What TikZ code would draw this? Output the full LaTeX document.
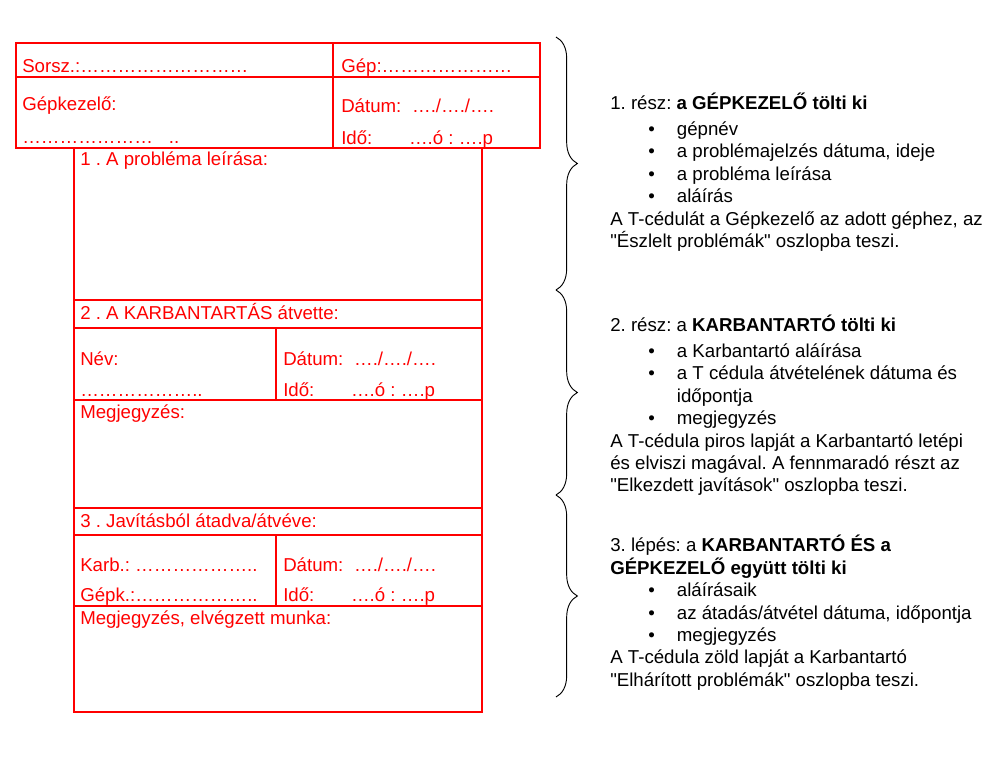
\documentclass[tikz,border=0pt]{standalone}
\usepackage{fontspec}
\setmainfont{Liberation Sans}[Ligatures=TeXOff]
\usetikzlibrary{positioning, decorations.pathreplacing}
\frenchspacing
\tikzstyle{formLine} = [
    draw=red,
    line width=1.3pt
    ]
\tikzstyle{formText} = [
    anchor=base west,
    inner sep=0pt,
    text=red,
    font=\fontsize{14}{16}\selectfont
    ]
\tikzstyle{noteText} = [
    anchor=north west,
    inner sep=0pt,
    align=left,
    font=\fontsize{14}{16.8}\selectfont
    ]
\tikzstyle{sectionBrace} = [
    decorate,
    decoration={brace, amplitude=16pt},
    line width=0.7pt
    ]
\newcommand{\bulletItem}[1]{\hspace*{28.5pt}\makebox[21.5pt][l]{\textbullet}#1}
\newcommand{\itemCont}[1]{\hspace*{50pt}#1}

\begin{document}
\begin{tikzpicture}[x=0.75pt, y=-0.75pt]
      \useasboundingbox (0,0) rectangle (1000,763);
      % header box
      \draw[formLine] (16,43) rectangle (540,148);
      \draw[formLine] (16,77) -- (540,77);
      \draw[formLine] (333,43) -- (333,148);
      % main sheet
      \draw[formLine] (74,148) rectangle (482,712);
      \foreach \y in {300,328,400,508,535,606}
        \draw[formLine] (74,\y) -- (482,\y);
      \draw[formLine] (276,328) -- (276,400);
      \draw[formLine] (276,535) -- (276,606);

      % header texts
      \node[formText] (sorsz) at (22,73) {Sorsz.:………………………};
      \node[formText] (gep) at (341,73) {Gép:…………………};
      \node[formText] (gepkez) at (22,111) {Gépkezelő:};
      \node[formText] (gepkezDots) at (22,144) {…………………\hspace{12pt}..};
      \node[formText] (datum1) at (341,113) {Dátum:\hspace{8pt}…./…./….};
      \node[formText] (ido1) at (341,145) {Idő:\hspace{27.5pt}….ó : ….p};

      % section 1
      \node[formText] (leiras) at (80,166) {1 . A probléma leírása:};
      % section 2
      \node[formText] (atvette) at (80,319) {2 . A KARBANTARTÁS átvette:};
      \node[formText] (nev) at (80,365) {Név:};
      \node[formText] (nevDots) at (80,396) {………………..};
      \node[formText] (datum2) at (283,365) {Dátum:\hspace{8pt}…./…./….};
      \node[formText] (ido2) at (283,396) {Idő:\hspace{27.5pt}….ó : ….p};
      \node[formText] (megj2) at (80,418) {Megjegyzés:};
      % section 3
      \node[formText] (atadva) at (80,527) {3 . Javításból átadva/átvéve:};
      \node[formText] (karb) at (80,571) {Karb.: ………………..};
      \node[formText] (gepk) at (80,601) {Gépk.:………………..};
      \node[formText] (datum3) at (283,571) {Dátum:\hspace{8pt}…./…./….};
      \node[formText] (ido3) at (283,601) {Idő:\hspace{27.5pt}….ó : ….p};
      \node[formText] (megj3) at (80,624) {Megjegyzés, elvégzett munka:};

      % braces
      \coordinate (braceA) at (556,37);
      \coordinate (braceB) at (556,290);
      \coordinate (braceC) at (556,495);
      \coordinate (braceD) at (556,697);
      \draw[sectionBrace] (braceA) -- (braceB);
      \draw[sectionBrace] (braceB) -- (braceC);
      \draw[sectionBrace] (braceC) -- (braceD);

      % notes
      \node[noteText] (note1) at (610,93) {1. rész: \textbf{a GÉPKEZELŐ tölti ki}\\[2.5pt]
        \bulletItem{gépnév}\\
        \bulletItem{a problémajelzés dátuma, ideje}\\
        \bulletItem{a probléma leírása}\\
        \bulletItem{aláírás}\\
        A T-cédulát a Gépkezelő az adott géphez, az\\
        "Észlelt problémák" oszlopba teszi.};
      \node[noteText] (note2) at (610,315) {2. rész: a \textbf{KARBANTARTÓ tölti ki}\\[2.5pt]
        \bulletItem{a Karbantartó aláírása}\\
        \bulletItem{a T cédula átvételének dátuma és}\\
        \itemCont{időpontja}\\
        \bulletItem{megjegyzés}\\
        A T-cédula piros lapját a Karbantartó letépi\\
        és elviszi magával. A fennmaradó részt az\\
        "Elkezdett javítások" oszlopba teszi.};
      \node[noteText] (note3) at (610,535) {3. lépés: a \textbf{KARBANTARTÓ ÉS a}\\
        \textbf{GÉPKEZELŐ együtt tölti ki}\\
        \bulletItem{aláírásaik}\\
        \bulletItem{az átadás/átvétel dátuma, időpontja}\\
        \bulletItem{megjegyzés}\\
        A T-cédula zöld lapját a Karbantartó\\
        "Elhárított problémák" oszlopba teszi.};
    \end{tikzpicture}
\end{document}
